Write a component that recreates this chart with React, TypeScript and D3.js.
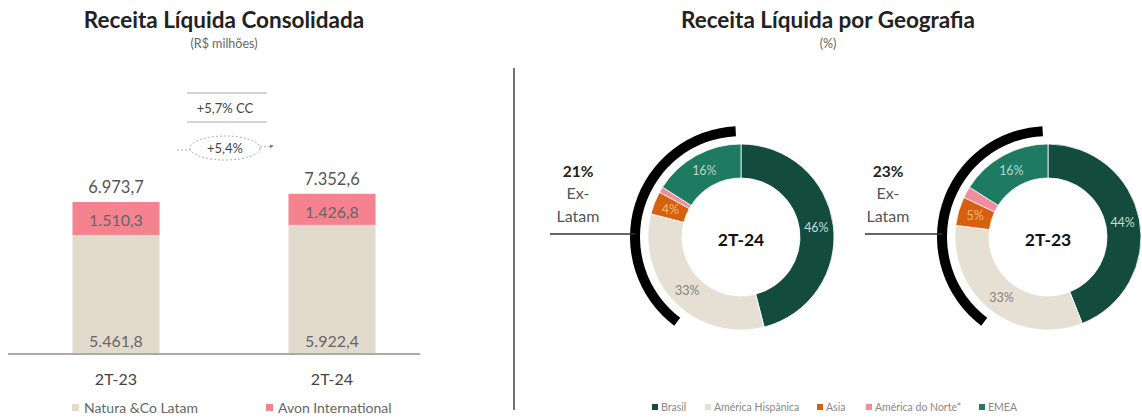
import React from "react";
import * as d3 from "d3";

const categories = ["2T-23", "2T-24"];
const naturaLatam = [5461.8, 5922.4];
const avonIntl = [1510.3, 1426.8];
const totals = [6973.7, 7352.6];
const barSeries = ["Natura &Co Latam", "Avon International"];

const regions = ["Brasil", "América Hispânica", "Asia", "América do Norte*", "EMEA"];
const donutPeriods = ["2T-24", "2T-23"];
const share2T24 = [46, 33, 4, 1, 16];
const share2T23 = [44, 33, 5, 2, 16];
const shareLabels2T24 = ["46%", "33%", "4%", "", "16%"];
const shareLabels2T23 = ["44%", "33%", "5%", "", "16%"];
const exLatam = ["21%", "23%"];
const growthCC = "+5,7% CC";
const growth = "+5,4%";

const FONT = "Lato, 'Open Sans', sans-serif";
const regionColors = ["#134b3c", "#e6dfd3", "#d7600f", "#f28c9c", "#1e7a60"];
const labelColors = ["#c8ddd5", "#8a8274", "#f5b870", "#fff", "#b9d8cc"];
const barColors = ["#e2dbcd", "#f4838f"];

const fmt = (v: number) => {
  const s = v.toFixed(1).split(".");
  return s[0].replace(/\B(?=(\d{3})+(?!\d))/g, ".") + "," + s[1];
};

export default function App() {
  const W = 1142, H = 419;
  const baseY = 354;
  const y = d3.scaleLinear().domain([0, 8000]).range([baseY, baseY - 174.4]);
  const x = d3.scaleBand().domain(categories).range([8, 440]).paddingInner(0.597).paddingOuter(0.2985);
  const bw = x.bandwidth();

  const pie = d3.pie<number>().sort(null).value((d) => d);
  const arc = d3.arc<d3.PieArcDatum<number>>().innerRadius(59).outerRadius(93);
  const labelArc = d3.arc<d3.PieArcDatum<number>>().innerRadius(76).outerRadius(76);
  const bracket = d3.arc<any>()({ innerRadius: 101, outerRadius: 111, startAngle: -2.496, endAngle: -0.05 } as any) as string;

  const donuts = [
    { cx: 741, cy: 237, data: share2T24, labels: shareLabels2T24, period: donutPeriods[0], ex: exLatam[0], tx: 578, lx0: 550 },
    { cx: 1048, cy: 237, data: share2T23, labels: shareLabels2T23, period: donutPeriods[1], ex: exLatam[1], tx: 888, lx0: 865 },
  ];

  const legendRight = [652, 705, 817, 866, 979];

  return (
    <svg width={W} height={H} style={{ position: "absolute", left: 0, top: 0, background: "#fff" }} fontFamily={FONT}>
      <defs>
        <marker id="arr" viewBox="0 0 6 6" refX="5" refY="3" markerWidth="5" markerHeight="5" orient="auto">
          <path d="M0,0 L6,3 L0,6 z" fill="#777" />
        </marker>
      </defs>
      {/* Left titles */}
      <text x={224} y={28} textAnchor="middle" fontSize={22.5} fontWeight={700} fill="#222">Receita Líquida Consolidada</text>
      <text x={224} y={48} textAnchor="middle" fontSize={12.5} fill="#666">(R$ milhões)</text>

      {/* growth annotation */}
      <line x1={187} x2={267} y1={93} y2={93} stroke="#aaa" strokeWidth={1} />
      <text x={225} y={113} textAnchor="middle" fontSize={13} fill="#444">{growthCC}</text>
      <line x1={187} x2={267} y1={122} y2={122} stroke="#aaa" strokeWidth={1} />
      <ellipse cx={225} cy={148} rx={35} ry={12} fill="none" stroke="#999" strokeWidth={0.8} strokeDasharray="2,2" />
      <line x1={177} x2={190} y1={150} y2={150} stroke="#999" strokeWidth={0.8} strokeDasharray="2,2" />
      <line x1={260} x2={273} y1={147} y2={146} stroke="#999" strokeWidth={0.8} strokeDasharray="2,2" markerEnd="url(#arr)" />
      <text x={225} y={153} textAnchor="middle" fontSize={13} fill="#444">{growth}</text>

      {/* bars */}
      {categories.map((c, i) => {
        const x0 = x(c)!;
        const cx = x0 + bw / 2;
        return (
          <g key={c}>
            <rect x={x0} y={y(naturaLatam[i])} width={bw} height={baseY - y(naturaLatam[i])} fill={barColors[0]} />
            <rect x={x0} y={y(naturaLatam[i] + avonIntl[i])} width={bw} height={y(naturaLatam[i]) - y(naturaLatam[i] + avonIntl[i])} fill={barColors[1]} />
            <text x={cx} y={y(totals[i]) - 9} textAnchor="middle" fontSize={16.5} fill="#555">{fmt(totals[i])}</text>
            <text x={cx} y={y(naturaLatam[i] + avonIntl[i]) + 24} textAnchor="middle" fontSize={16} fill="#666">{fmt(avonIntl[i])}</text>
            <text x={cx} y={baseY - 7} textAnchor="middle" fontSize={16} fill="#666">{fmt(naturaLatam[i])}</text>
            <text x={cx} y={385} textAnchor="middle" fontSize={16} fill="#444">{c}</text>
          </g>
        );
      })}
      <line x1={8} x2={420} y1={baseY} y2={baseY} stroke="#aaa" strokeWidth={2} />

      {/* left legend */}
      {barSeries.map((s, i) => (
        <g key={s} transform={`translate(${[72, 266][i]},0)`}>
          <rect x={0} y={404} width={7} height={7} fill={barColors[i]} />
          <text x={12} y={413} fontSize={14} fill="#666">{s}</text>
        </g>
      ))}

      {/* divider */}
      <line x1={514} x2={514} y1={68} y2={410} stroke="#444" strokeWidth={1.5} />

      {/* Right titles */}
      <text x={828} y={28} textAnchor="middle" fontSize={22.5} fontWeight={700} fill="#222">Receita Líquida por Geografia</text>
      <text x={828} y={48} textAnchor="middle" fontSize={12.5} fill="#666">(%)</text>

      {donuts.map((d) => {
        const arcs = pie(d.data);
        return (
          <g key={d.period}>
            <g transform={`translate(${d.cx},${d.cy})`}>
              {arcs.map((a, i) => (
                <path key={i} d={arc(a)!} fill={regionColors[i]} stroke="#fff" strokeWidth={0.8} />
              ))}
              {arcs.map((a, i) => {
                const [lx, ly] = labelArc.centroid(a);
                return d.labels[i] ? (
                  <text key={"l" + i} x={lx} y={ly + 4.5} textAnchor="middle" fontSize={12.5} fill={labelColors[i]}>{d.labels[i]}</text>
                ) : null;
              })}
              <path d={bracket} fill="#000" />
              <text x={0} y={9} textAnchor="middle" fontSize={17.5} fontWeight={700} fill="#111">{d.period}</text>
            </g>
            <line x1={d.lx0} x2={d.cx - 106} y1={234} y2={234} stroke="#333" strokeWidth={1.3} />
            <text x={d.tx} y={177} textAnchor="middle" fontSize={15.5} fontWeight={700} fill="#222">{d.ex}</text>
            <text x={d.tx} y={199} textAnchor="middle" fontSize={16} fill="#555">Ex-</text>
            <text x={d.tx} y={222} textAnchor="middle" fontSize={16} fill="#555">Latam</text>
          </g>
        );
      })}

      {/* right legend */}
      {regions.map((r, i) => (
        <g key={r} transform={`translate(${legendRight[i]},0)`}>
          <rect x={0} y={404} width={6} height={6} fill={regionColors[i]} />
          <text x={9} y={411} fontSize={10.5} fill="#888">{r}</text>
        </g>
      ))}
    </svg>
  );
}
